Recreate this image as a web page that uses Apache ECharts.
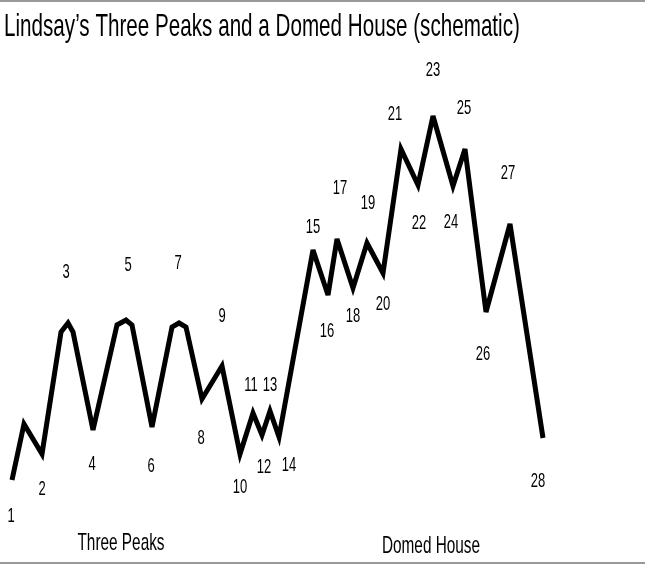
<!DOCTYPE html>
<html>
<head>
<meta charset="utf-8">
<script src="https://cdn.jsdelivr.net/npm/echarts@6/dist/echarts.min.js"></script>
<style>html,body{margin:0;padding:0;background:#fff}#c{width:645px;height:566px}</style>
</head>
<body>
<div id="c"></div>
<script>
// Schematic time positions and price levels of the path vertices
const pathTime = [12,24,42,61,68,73,93,117,126,132,152,172,179,186,202,222,240,253,262,270,279,313,328,337,353,367,383,401,418,433,453,465,486,510,543];
const pathPrice = [86,142,112,234,243,234,136,241,246,241,139,239,243,239,167,200,112,153,131,155,129,316,271,327,278,323,293,417,381,450,380,417,254,342,128];
// Wave point numbers and their label positions
const pointNames = ['1','2','3','4','5','6','7','8','9','10','11','12','13','14','15','16','17','18','19','20','21','22','23','24','25','26','27','28'];
const labelTime = [11,42,66,92,128,151,178,201,222,240,251,264,270,289,313,327,340,353,368,383,395,419,433,451,464,483,508,538];
const labelPrice = [50,77,294,102,301,100,303,128,250,79,181,99,181,101,339,235,378,250,363,262,452,343,496,344,458,212,393,85];
// Section captions
const sectionNames = ['Three Peaks','Domed House'];
const sectionTime = [121,431];
const sectionPrice = [23,20];
const titleText = 'Lindsay\u2019s Three Peaks and a Domed House (schematic)';

const FONT = '"Liberation Sans",Arial,sans-serif';
const chart = echarts.init(document.getElementById('c'));
const baseGraphic = [
  {type:'rect',shape:{x:0,y:0,width:645,height:2},style:{fill:'#999'}},
  {type:'rect',shape:{x:0,y:562,width:645,height:2},style:{fill:'#999'}}
];
chart.setOption({
  backgroundColor:'#fff',
  animation:false,
  grid:{left:0,right:0,top:0,bottom:0},
  xAxis:{type:'value',min:0,max:645,show:false},
  yAxis:{type:'value',min:0,max:566,show:false},
  series:[
    {type:'line',data:pathTime.map((t,i)=>[t,pathPrice[i]]),symbol:'none',
     lineStyle:{color:'#000',width:5,join:'miter',cap:'butt',miterLimit:4}},
    {type:'scatter',symbolSize:0,silent:true,data:labelTime.map((t,i)=>({value:[t,labelPrice[i]],name:pointNames[i]})),label:{show:false}}
  ],
  graphic:baseGraphic
});
const texts = [];
texts.push({type:'text',x:4,y:27,scaleX:0.645,style:{x:0,y:0,text:titleText,font:'32px '+FONT,fill:'#000',align:'left',verticalAlign:'middle'}});
pointNames.forEach((n,i)=>{
  const p = chart.convertToPixel({gridIndex:0},[labelTime[i],labelPrice[i]]);
  texts.push({type:'text',x:p[0],y:p[1],scaleX:0.62,style:{x:0,y:0,text:n,font:'21px '+FONT,fill:'#000',align:'center',verticalAlign:'middle'}});
});
sectionNames.forEach((n,i)=>{
  const p = chart.convertToPixel({gridIndex:0},[sectionTime[i],sectionPrice[i]]);
  texts.push({type:'text',x:p[0],y:p[1],scaleX:0.64,style:{x:0,y:0,text:n,font:'24px '+FONT,fill:'#000',align:'center',verticalAlign:'middle'}});
});
chart.setOption({graphic:baseGraphic.concat(texts)}, {replaceMerge:['graphic']});
</script>
</body>
</html>
